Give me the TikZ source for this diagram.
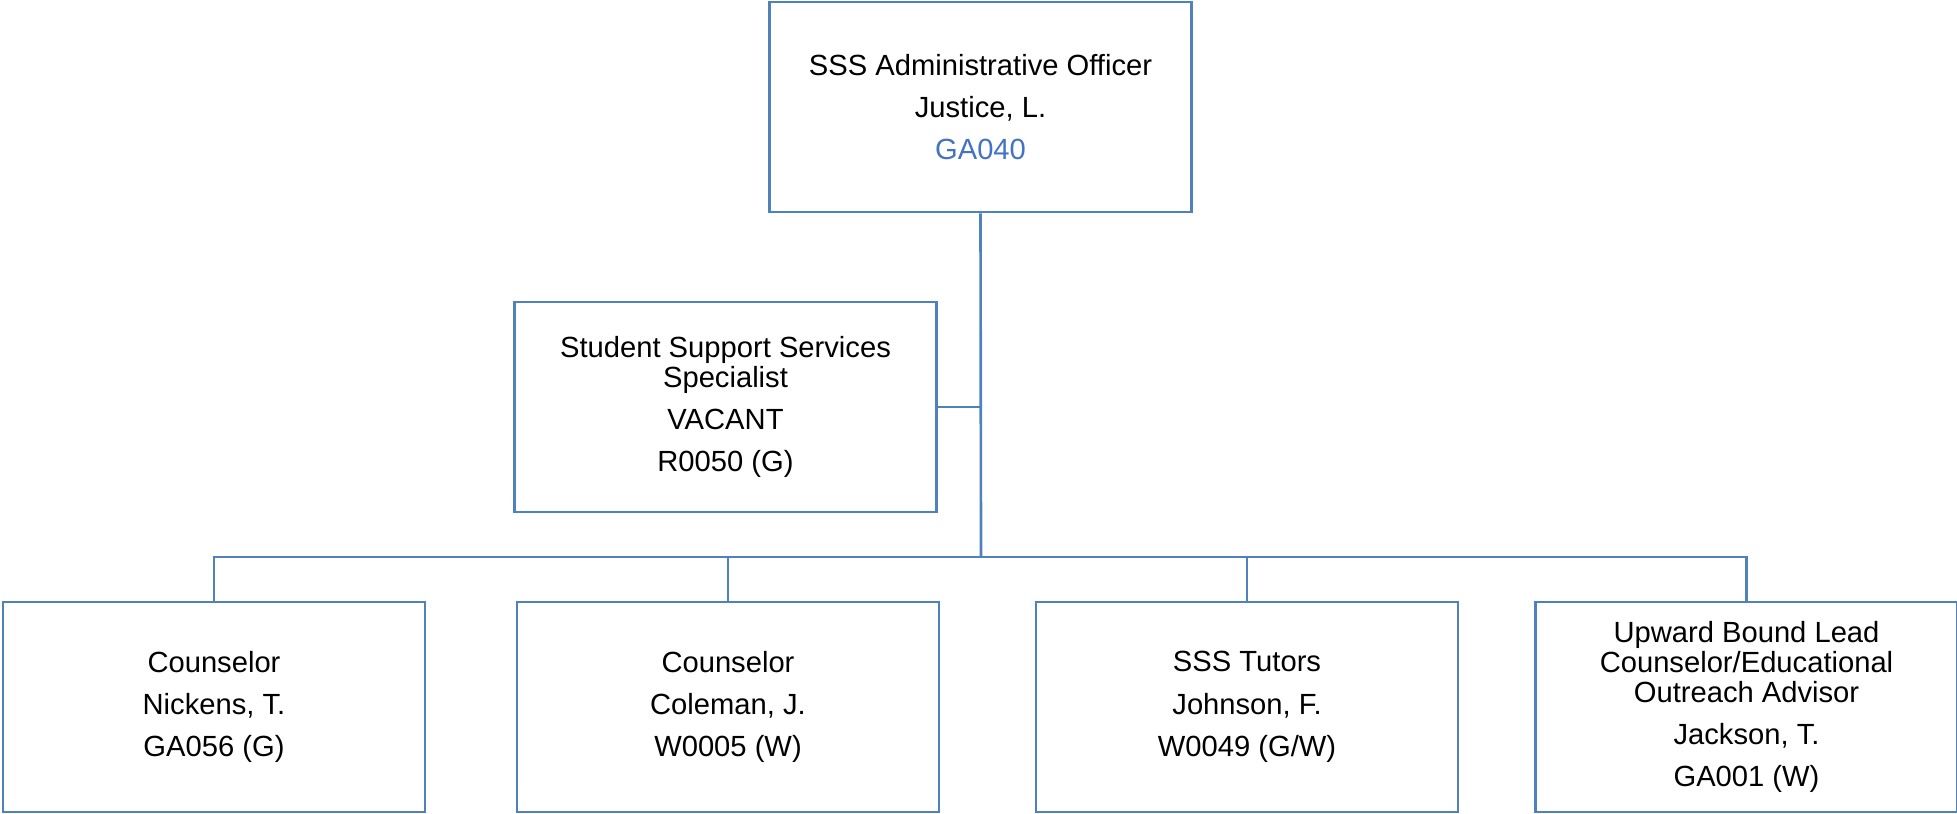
\documentclass[tikz,border=0pt]{standalone}
\usepackage{fontspec}
\setmainfont{Liberation Sans}
\usepackage{xcolor}
\usepackage{tikz}
\usetikzlibrary{positioning}
\definecolor{boxblue}{HTML}{4F81BD}
\definecolor{codeblue}{HTML}{4472C4}
\tikzstyle{link} = [draw=boxblue, line width=0.75pt]
\tikzset{every node/.style={align=center}}

\begin{document}
\begin{tikzpicture}[
    post/.style={rectangle, draw=boxblue, line width=0.8pt, fill=white,
                 minimum width=4.22cm, minimum height=2.10cm, inner sep=2pt,
                 font=\fontsize{8.3}{8.6}\selectfont}
]
  \useasboundingbox (0,0) rectangle (19.57,8.14);

  % --- head of unit (row 1) ---
  \node[post] (AO) at (9.805, 7.07) {SSS Administrative Officer\\[3.4pt]
        Justice, L.\\[3.4pt] \textcolor{codeblue}{GA040}};

  % --- staff post (row 2) ---
  \node[post] (SSS) at (7.255, 4.07) {Student Support Services\\Specialist\\[3.4pt]
        VACANT\\[3.4pt] R0050 (G)};

  % --- direct reports (row 3) ---
  \node[post] (C1) at (2.14,  1.07) {Counselor\\[3.4pt] Nickens, T.\\[3.4pt] GA056 (G)};
  \node[post] (C2) at (7.28,  1.07) {Counselor\\[3.4pt] Coleman, J.\\[3.4pt] W0005 (W)};
  \node[post] (TU) at (12.47, 1.07) {SSS Tutors\\[3.4pt] Johnson, F.\\[3.4pt] W0049 (G/W)};
  \node[post] (UB) at (17.465,1.07) {Upward Bound Lead\\Counselor/Educational\\Outreach Advisor\\[3.4pt]
        Jackson, T.\\[3.4pt] GA001 (W)};

  % --- connectors ---
  \coordinate (bus) at (9.81, 2.57);
  \draw[link] (AO.south) -- (bus);
  \draw[link] (SSS.east) -- (SSS.east -| AO.south);
  \draw[link] (C1.north) |- (bus) -| (UB.north);
  \draw[link] (C2.north) -- (C2.north |- bus);
  \draw[link] (TU.north) -- (TU.north |- bus);
\end{tikzpicture}
\end{document}
